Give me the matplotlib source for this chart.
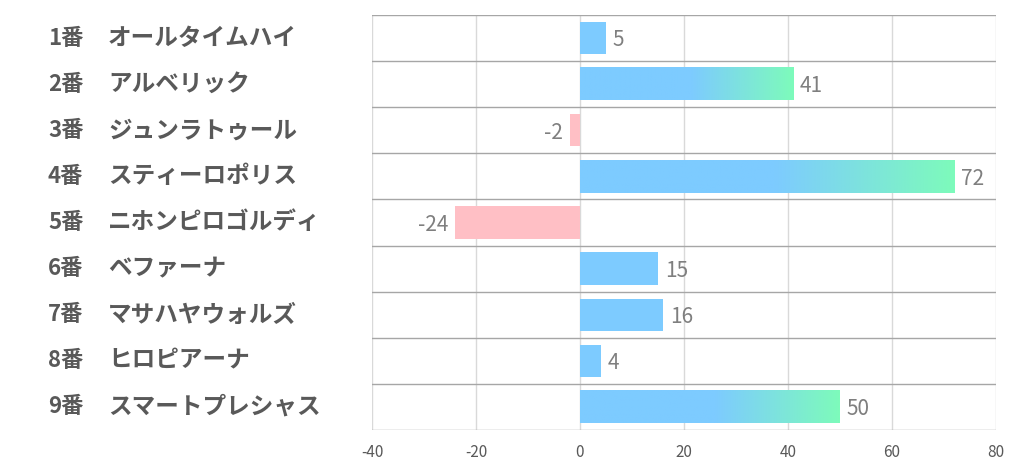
import numpy as np
import matplotlib.pyplot as plt
from matplotlib.colors import LinearSegmentedColormap
from matplotlib.transforms import blended_transform_factory

plt.rcParams['font.family'] = ['Noto Sans CJK JP', 'DejaVu Sans']
plt.rcParams['axes.unicode_minus'] = False

numbers = ['1番', '2番', '3番', '4番', '5番', '6番', '7番', '8番', '9番']
horses = ['オールタイムハイ', 'アルベリック', 'ジュンラトゥール', 'スティーロポリス',
          'ニホンピロゴルディ', 'ベファーナ', 'マサハヤウォルズ', 'ヒロピアーナ', 'スマートプレシャス']
values = [5, 41, -2, 72, -24, 15, 16, 4, 50]

blue = '#7dcbff'
green = '#7dfbbb'
pink = '#ffbfc5'
grad = LinearSegmentedColormap.from_list('g', [(0, blue), (0.52, blue), (1, green)])

fig = plt.figure(figsize=(10.22, 4.70), dpi=100)
ax = fig.add_axes([372 / 1022, 1 - 430 / 470, 624 / 1022, 415 / 470])

n = len(values)
ys = np.arange(n)
bh = 0.7
for y, v in zip(ys, values):
    if v < 0:
        ax.barh(y, v, height=bh, color=pink, zorder=2)
        ax.text(v - 1.3, y + 0.05, str(v), ha='right', va='center', fontsize=15, color='#7f7f7f')
    else:
        if v >= 30:
            ax.imshow(np.linspace(0, 1, 256).reshape(1, -1), cmap=grad, aspect='auto',
                      extent=(0, v, y + bh / 2, y - bh / 2), zorder=2)
        else:
            ax.barh(y, v, height=bh, color=blue, zorder=2)
        ax.text(v + 1.3, y + 0.05, str(v), ha='left', va='center', fontsize=15, color='#7f7f7f')

ax.set_xlim(-40, 80)
ax.set_ylim(n - 0.5, -0.5)
ax.set_xticks(np.arange(-40, 81, 20))
ax.set_yticks([])
for x in np.arange(-40, 81, 20):
    ax.axvline(x, color='#d9d9d9', lw=1, zorder=1)
for b in np.arange(-0.5, n, 1):
    ax.axhline(b, color='#a6a6a6', lw=1, zorder=1)
for s in ax.spines.values():
    s.set_visible(False)
ax.tick_params(axis='x', length=0, pad=10, labelsize=11, labelcolor='#595959')

tr = blended_transform_factory(fig.transFigure, ax.transData)
for y, num, name in zip(ys, numbers, horses):
    ax.text(48 / 1022, y, num, transform=tr, ha='left', va='center', fontsize=16,
            fontweight='bold', color='#595959')
    ax.text(108 / 1022, y, name, transform=tr, ha='left', va='center', fontsize=17,
            fontweight='bold', color='#595959')

fig.savefig('out.png', dpi=100)
